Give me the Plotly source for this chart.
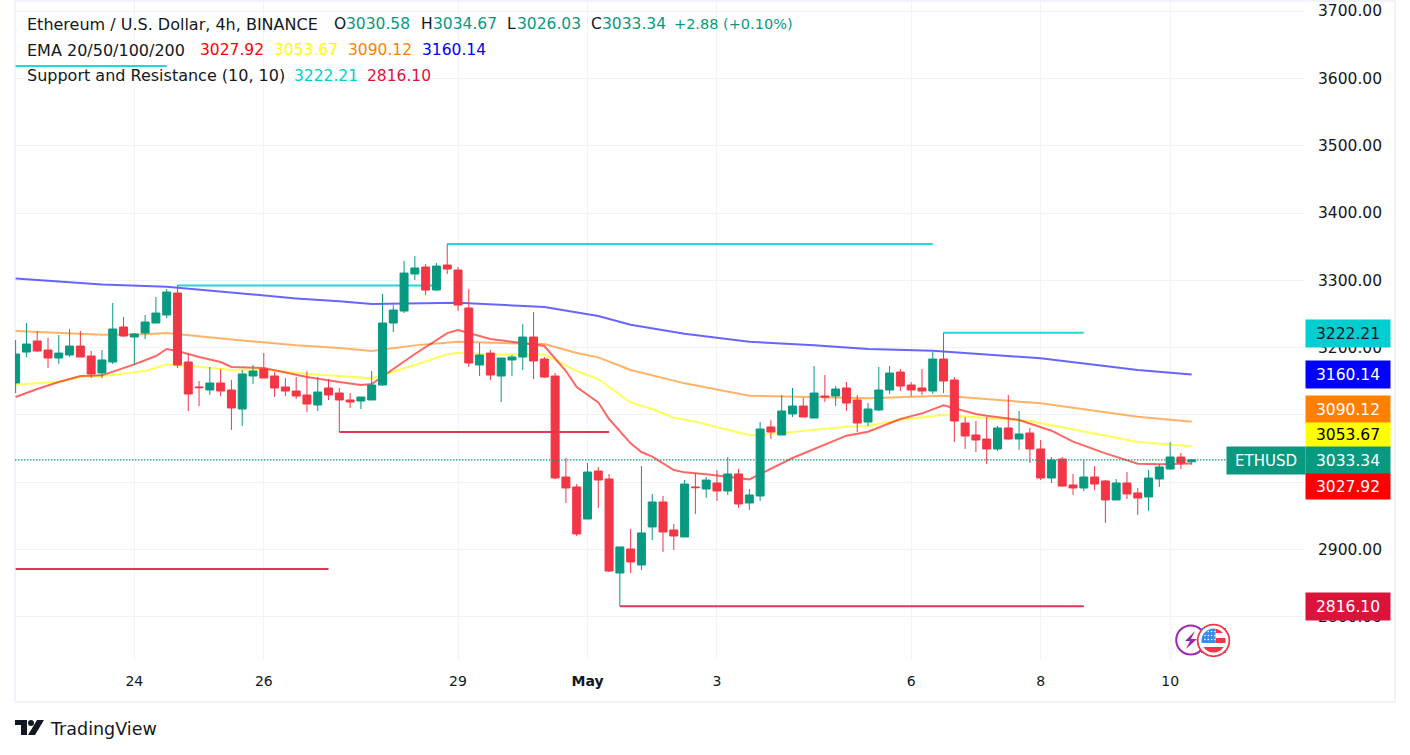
import pandas as pd
import plotly.graph_objects as go

# 4h bars, BINANCE ETHUSD
bar_times = pd.date_range("2024-04-22 04:00", periods=110, freq="4h")

open_prices = [
    3147.5, 3193.5, 3209.9, 3196.5, 3184.6, 3189.1, 3202.4, 3187.6, 3162.4, 3178.7,
    3230.7, 3215.8, 3221.7, 3236.6, 3248.5, 3281.1, 3178.7, 3141.6, 3137.1, 3147.5,
    3137.1, 3108.9, 3157.9, 3168.3, 3157.9, 3141.6, 3135.6, 3129.7, 3114.8, 3140.1,
    3132.6, 3122.3, 3120.8, 3122.3, 3144.5, 3236.6, 3254.4, 3309.4, 3319.8, 3285.6,
    3322.7, 3315.3, 3258.9, 3174.2, 3192.0, 3157.9, 3181.7, 3186.1, 3215.8, 3183.1,
    3157.9, 3007.9, 2993.1, 2945.5, 3016.8, 3004.9, 2865.3, 2901.0, 2877.2, 2933.7,
    2970.8, 2929.2, 2918.8, 2993.1, 2990.1, 2999.0, 2987.1, 3012.4, 2969.3, 2979.7,
    3082.2, 3070.3, 3101.5, 3113.3, 3095.5, 3128.2, 3128.2, 3140.1, 3122.3, 3089.6,
    3107.4, 3137.1, 3163.8, 3144.5, 3140.1, 3135.6, 3183.1, 3152.0, 3088.1, 3070.3,
    3064.3, 3049.5, 3080.7, 3064.3, 3073.2, 3049.5, 3006.4, 3034.6, 2996.0, 2991.6,
    3007.9, 3002.0, 2973.8, 2999.0, 2984.2, 2978.2, 3004.9, 3019.8, 3037.6, 3030.58,
]
high_prices = [
    3211.3, 3236.6, 3224.7, 3214.3, 3218.8, 3227.7, 3224.7, 3195.0, 3196.5, 3266.3,
    3245.5, 3221.7, 3248.5, 3275.2, 3287.1, 3293.0, 3192.0, 3150.5, 3171.3, 3168.3,
    3152.0, 3166.8, 3174.2, 3192.0, 3163.8, 3154.9, 3156.4, 3165.3, 3156.4, 3153.4,
    3140.1, 3132.6, 3126.7, 3165.3, 3279.7, 3263.3, 3328.7, 3336.1, 3324.2, 3325.7,
    3353.9, 3319.8, 3287.1, 3206.9, 3196.5, 3184.6, 3189.1, 3235.1, 3252.9, 3186.1,
    3162.4, 3036.1, 2997.5, 3028.7, 3022.8, 3012.4, 2904.0, 2930.7, 3024.2, 2982.7,
    2979.7, 2938.1, 3003.4, 3013.9, 3007.9, 3018.3, 3037.6, 3019.8, 2990.1, 3089.6,
    3092.6, 3129.7, 3140.1, 3125.2, 3172.7, 3159.4, 3143.0, 3149.0, 3129.7, 3117.8,
    3171.3, 3172.7, 3168.3, 3149.0, 3168.3, 3193.5, 3222.2, 3156.4, 3097.0, 3091.1,
    3097.0, 3083.6, 3129.7, 3105.9, 3080.7, 3062.9, 3037.6, 3037.6, 3012.4, 3033.2,
    3024.2, 3003.4, 3004.9, 3015.3, 2991.6, 3018.3, 3027.2, 3059.9, 3043.5, 3034.67,
]
low_prices = [
    3132.6, 3186.1, 3193.5, 3169.8, 3175.7, 3186.1, 3186.1, 3154.9, 3154.9, 3175.7,
    3215.8, 3174.2, 3212.8, 3236.6, 3244.0, 3169.8, 3105.9, 3113.3, 3129.7, 3128.2,
    3077.7, 3083.6, 3146.0, 3154.9, 3126.7, 3128.2, 3123.7, 3104.4, 3105.9, 3122.3,
    3074.7, 3110.4, 3108.9, 3122.3, 3143.0, 3223.2, 3251.4, 3300.5, 3278.2, 3284.1,
    3309.4, 3254.4, 3171.3, 3157.9, 3152.0, 3119.3, 3157.9, 3166.8, 3153.4, 3154.9,
    3004.9, 2969.3, 2920.3, 2945.5, 2961.9, 2866.8, 2816.1, 2865.3, 2869.8, 2914.4,
    2896.5, 2899.5, 2918.8, 2953.0, 2976.7, 2972.3, 2981.2, 2961.9, 2958.9, 2972.3,
    3064.3, 3070.3, 3097.0, 3097.0, 3095.5, 3119.3, 3113.3, 3105.9, 3074.7, 3083.6,
    3105.9, 3131.2, 3135.6, 3128.2, 3129.7, 3131.2, 3132.6, 3059.9, 3049.5, 3045.0,
    3027.2, 3046.5, 3062.9, 3048.0, 3028.7, 3003.4, 2999.0, 2993.1, 2981.2, 2987.1,
    2988.6, 2939.6, 2973.8, 2975.2, 2951.5, 2957.4, 2993.1, 3018.3, 3019.8, 3026.03,
]
close_prices = [
    3190.6, 3205.4, 3195.0, 3184.6, 3192.0, 3202.4, 3186.1, 3160.9, 3181.7, 3227.7,
    3217.3, 3220.3, 3238.1, 3251.4, 3282.6, 3174.2, 3131.2, 3140.6, 3147.5, 3135.6,
    3110.4, 3160.9, 3165.3, 3154.9, 3140.1, 3135.6, 3128.2, 3116.3, 3134.1, 3129.7,
    3122.3, 3119.3, 3126.7, 3144.5, 3236.6, 3255.9, 3310.8, 3318.3, 3285.6, 3321.2,
    3316.8, 3263.3, 3177.2, 3189.1, 3159.4, 3184.6, 3186.1, 3215.8, 3180.2, 3156.4,
    3006.4, 2991.6, 2923.3, 3015.3, 3003.4, 2868.3, 2904.0, 2881.7, 2924.8, 2970.8,
    2926.2, 2920.3, 2997.5, 2992.1, 3003.4, 2987.1, 3012.4, 2967.8, 2981.2, 3079.2,
    3074.7, 3105.9, 3113.3, 3097.0, 3132.6, 3126.7, 3138.6, 3117.8, 3088.1, 3108.9,
    3137.1, 3162.3, 3143.0, 3137.1, 3135.6, 3183.1, 3150.5, 3091.1, 3068.8, 3062.9,
    3049.5, 3080.7, 3064.3, 3071.8, 3049.5, 3006.4, 3033.2, 2994.5, 2991.6, 3007.9,
    2997.5, 2973.8, 2999.0, 2982.7, 2976.7, 3006.4, 3022.8, 3037.6, 3028.7, 3033.34,
]

# EMA lines, vertices only: bar number and price
ema20_bars = [0, 2, 4, 6, 8, 11, 13, 14, 15, 17, 19, 20, 23, 27, 30, 32, 33, 37, 40, 41,
              44, 46, 49, 51, 52, 54, 55, 57, 58, 59, 61, 62, 64, 68, 72, 77, 79, 82, 84, 86,
              89, 90, 93, 96, 98, 101, 104, 106, 109]
ema20_vals = [3126.7, 3138.6, 3149.0, 3157.9, 3158.9, 3175.2, 3187.6, 3198.0, 3195.0, 3186.1,
              3178.7, 3171.3, 3169.8, 3156.4, 3149.0, 3144.5, 3146.0, 3190.6, 3221.7, 3226.2,
              3212.8, 3208.4, 3202.4, 3165.3, 3141.6, 3118.8, 3094.0, 3057.9, 3045.0, 3038.1,
              3018.3, 3014.8, 3011.9, 3004.4, 3036.1, 3069.3, 3075.2, 3094.0, 3102.4, 3114.3,
              3101.5, 3099.0, 3092.6, 3076.7, 3060.4, 3043.0, 3027.7, 3026.7, 3027.92]
ema50_bars = [0, 4, 6, 8, 12, 14, 17, 20, 23, 27, 30, 33, 37, 40, 41, 45, 49, 52, 54, 57,
              59, 61, 63, 68, 72, 77, 79, 82, 86, 89, 94, 104, 109]
ema50_vals = [3145.0, 3149.5, 3156.4, 3157.4, 3165.3, 3175.2, 3171.7, 3166.8, 3167.8, 3160.9,
              3157.9, 3154.4, 3174.2, 3190.1, 3192.5, 3189.6, 3190.1, 3165.3, 3153.4, 3118.3,
              3108.9, 3096.0, 3090.0, 3069.8, 3074.7, 3082.6, 3083.6, 3093.0, 3100.0, 3097.0,
              3091.1, 3059.9, 3053.67]
ema100_bars = [0, 8, 12, 14, 20, 26, 30, 33, 37, 41, 45, 49, 52, 54, 57, 62, 68, 74, 79, 86,
               89, 95, 104, 109]
ema100_vals = [3224.7, 3219.3, 3219.8, 3221.7, 3212.3, 3203.4, 3199.5, 3195.0, 3203.4, 3208.9,
               3206.9, 3205.4, 3192.0, 3185.6, 3166.8, 3147.0, 3128.7, 3126.2, 3124.7, 3128.7,
               3124.7, 3117.3, 3097.5, 3090.12]
ema200_bars = [0, 8, 14, 20, 26, 30, 33, 41, 49, 54, 57, 62, 68, 74, 79, 85, 89, 95, 104, 109]
ema200_vals = [3302.9, 3294.0, 3290.6, 3282.1, 3273.2, 3268.8, 3264.8, 3266.8, 3260.4, 3247.0,
               3234.1, 3220.8, 3208.9, 3203.4, 3198.0, 3195.5, 3190.6, 3184.1, 3166.8, 3160.14]

# support / resistance levels: first bar, last bar, price
resistance_start = [0, 15, 40, 86]
resistance_end = [14, 39, 85, 99]
resistance_vals = [3618.3, 3292.5, 3353.9, 3222.21]
support_start = [0, 30, 56]
support_end = [29, 55, 99]
support_vals = [2871.3, 3074.7, 2816.10]

date_ticks = ["2024-04-24", "2024-04-26", "2024-04-29", "2024-05-01",
              "2024-05-03", "2024-05-06", "2024-05-08", "2024-05-10"]
date_labels = ["24", "26", "29", "<b>May</b>", "3", "6", "8", "10"]
price_ticks = [2800, 2900, 3000, 3100, 3200, 3300, 3400, 3500, 3600, 3700]
# 3000 and 3100 sit fully under the price tags, so they carry no label
price_labels = ["2800.00", "2900.00", "", "", "3200.00", "3300.00", "3400.00", "3500.00", "3600.00", "3700.00"]

GREEN = "#089981"
RED = "#F23645"
TEAL = "#00CED1"
CRIMSON = "#DC143C"
INK = "#131722"
GRID = "#F2F3F7"
BORDER = "#F0F3FA"
FONT = "DejaVu Sans"

# plot area in page pixels
LEFT, RIGHT, TOP, BOTTOM = 15, 1305, 2, 660
price_range = [2736.1, 3713.4]
time_range = ["2024-04-22 03:46", "2024-05-12 02:00"]


def px_x(x):
    return (x - LEFT) / (RIGHT - LEFT)


def px_y(y):
    return (BOTTOM - y) / (BOTTOM - TOP)


def add_ema(fig, bars, vals, color, name):
    fig.add_trace(go.Scatter(x=bar_times[bars], y=vals, mode="lines", name=name,
                             line=dict(color=color, width=2), hoverinfo="skip"))


def add_levels(fig, starts, ends, vals, color, name):
    for s, e, v in zip(starts, ends, vals):
        fig.add_trace(go.Scatter(x=[bar_times[s], bar_times[e]], y=[v, v], mode="lines", name=name,
                                 line=dict(color=color, width=2), opacity=0.85, hoverinfo="skip"))


def path_rect(x0, y0, x1, y1, color, line=None):
    return dict(type="rect", xref="paper", yref="paper", x0=px_x(x0), x1=px_x(x1),
                y0=px_y(y0), y1=px_y(y1), fillcolor=color, layer="above",
                line=dict(color=line or color, width=0))


def circle(cx, cy, r, fill, line, width):
    return dict(type="circle", xref="paper", yref="paper", x0=px_x(cx - r), x1=px_x(cx + r),
                y0=px_y(cy + r), y1=px_y(cy - r), fillcolor=fill, layer="above",
                line=dict(color=line, width=width))


def polygon(points, color):
    d = "M " + " L ".join(f"{px_x(x)},{px_y(y)}" for x, y in points) + " Z"
    return dict(type="path", xref="paper", yref="paper", path=d, fillcolor=color,
                layer="above", line=dict(color=color, width=0))


fig = go.Figure()

add_ema(fig, ema200_bars, ema200_vals, "rgba(0,0,255,0.6)", "EMA 200")
add_ema(fig, ema100_bars, ema100_vals, "rgba(255,128,0,0.6)", "EMA 100")
add_ema(fig, ema50_bars, ema50_vals, "rgba(255,255,0,0.65)", "EMA 50")
add_ema(fig, ema20_bars, ema20_vals, "rgba(255,0,0,0.6)", "EMA 20")
add_levels(fig, resistance_start, resistance_end, resistance_vals, TEAL, "Resistance")
add_levels(fig, support_start, support_end, support_vals, CRIMSON, "Support")

# candles sit on an overlay axis so that they are drawn over the lines
fig.add_trace(go.Candlestick(
    x=bar_times, open=open_prices, high=high_prices, low=low_prices, close=close_prices,
    yaxis="y2", name="ETHUSD", whiskerwidth=0,
    increasing=dict(line=dict(color=GREEN, width=1), fillcolor=GREEN),
    decreasing=dict(line=dict(color=RED, width=1), fillcolor=RED),
))

shapes = [
    dict(type="rect", xref="paper", yref="paper", x0=px_x(15), x1=px_x(1395), y0=px_y(702), y1=px_y(1),
         line=dict(color=BORDER, width=2), layer="below"),
    dict(type="line", xref="paper", yref="y", x0=px_x(15), x1=px_x(1226),
         y0=close_prices[-1], y1=close_prices[-1], layer="above",
         line=dict(color=GREEN, width=1.3, dash="1.5px,1.5px")),
    # lightning badge
    circle(1190.7, 640, 14.5, "white", "#9C27B0", 2),
    polygon([(1195, 631), (1185, 641), (1190, 641), (1186, 649), (1197, 639), (1191, 639)], "#9C27B0"),
    # flag badge
    circle(1213.5, 640.5, 15.5, "white", RED, 2.5),
    path_rect(1215.5, 628, 1226, 633, RED),
    path_rect(1215.5, 638, 1226, 643, RED),
    path_rect(1201, 647, 1226, 653, RED),
    path_rect(1201, 628, 1215.5, 643, "#3C8CE7"),
    circle(1213.5, 640.5, 13.5, "rgba(0,0,0,0)", "white", 3),
    # TradingView mark
    polygon([(15, 720), (27, 720), (27, 735), (21, 735), (21, 725), (15, 725)], INK),
    circle(31, 723, 3, INK, INK, 0),
    polygon([(37, 720), (44, 720), (35, 735), (28, 735)], INK),
]
for row in range(3):
    for col in range(4):
        shapes.append(circle(1205 + col * 3.3, 631.5 + row * 4, 0.8, "white", "white", 0))

# header lines, text pieces at their own x and size
legend_parts = [
    ("Ethereum / U.S. Dollar, 4h, BINANCE", INK, 26, 24, 16),
    ("O", INK, 333, 24, 15.5), ("3030.58", GREEN, 345, 24, 15.5),
    ("H", INK, 420, 24, 15.5), ("3034.67", GREEN, 432, 24, 15.5),
    ("L", INK, 506, 24, 15.5), ("3026.03", GREEN, 516, 24, 15.5),
    ("C", INK, 590, 24, 15.5), ("3033.34", GREEN, 601, 24, 15.5),
    ("+2.88 (+0.10%)", GREEN, 673, 24, 14.5),
    ("EMA 20/50/100/200", INK, 26, 50, 16),
    ("3027.92", "#FF0000", 199, 50, 15.5), ("3053.67", "#FFFF00", 273, 50, 15.5),
    ("3090.12", "#FF8000", 347, 50, 15.5), ("3160.14", "#0000FF", 421, 50, 15.5),
    ("Support and Resistance (10, 10)", INK, 26, 76, 16),
    ("3222.21", TEAL, 293, 76, 15.5), ("2816.10", CRIMSON, 366, 76, 15.5),
]
annotations = []
for text, color, x, y, size in legend_parts:
    annotations.append(dict(text=text, xref="paper", yref="paper", x=px_x(x), y=px_y(y),
                            xanchor="left", yanchor="middle", showarrow=False,
                            font=dict(family=FONT, size=size, color=color), borderpad=0))

# price tags on the right: text, fill, text colour, top, bottom
price_tags = [
    ("3222.21", TEAL, INK, 320, 347),
    ("3160.14", "#0000FF", "white", 361, 388),
    ("3090.12", "#FF8000", "white", 396, 423),
    ("3053.67", "#FFFF00", "black", 423, 447),
    ("3033.34", GREEN, "white", 447, 474),
    ("3027.92", "#FF0000", "white", 474, 499),
    ("2816.10", CRIMSON, "white", 593, 620),
]
for text, fill, color, top, bottom in price_tags:
    annotations.append(dict(text=text, xref="paper", yref="paper", x=px_x(1305), y=px_y((top + bottom) / 2),
                            xanchor="left", yanchor="middle", showarrow=False, width=84, height=bottom - top,
                            bgcolor=fill, borderpad=0, font=dict(family=FONT, size=15.5, color=color)))
annotations.append(dict(text="ETHUSD", xref="paper", yref="paper", x=px_x(1226), y=px_y(460.5),
                        xanchor="left", yanchor="middle", showarrow=False, width=78, height=27,
                        bgcolor=GREEN, borderpad=0, font=dict(family=FONT, size=15, color="white")))
annotations.append(dict(text="TradingView", xref="paper", yref="paper", x=px_x(49), y=px_y(729),
                        xanchor="left", yanchor="middle", showarrow=False, borderpad=0,
                        font=dict(family=FONT, size=17.5, color=INK)))

fig.update_layout(
    width=1410, height=755,
    margin=dict(l=LEFT, r=1410 - RIGHT, t=TOP, b=755 - BOTTOM, pad=0),
    paper_bgcolor="white", plot_bgcolor="white",
    showlegend=False, boxgap=0.26, boxgroupgap=0, hovermode=False,
    font=dict(family=FONT, size=15, color=INK),
    shapes=shapes, annotations=annotations,
    xaxis=dict(type="date", range=time_range, tickvals=date_ticks, ticktext=date_labels,
               showgrid=True, gridcolor=GRID, gridwidth=1, zeroline=False, showline=False,
               ticks="", rangeslider=dict(visible=False), ticklabelstandoff=11,
               tickfont=dict(family=FONT, size=14, color=INK)),
    yaxis=dict(range=price_range, side="right", tickvals=price_ticks, ticktext=price_labels,
               showgrid=True, gridcolor=GRID, gridwidth=1, zeroline=False, showline=False,
               ticks="", ticklabelstandoff=12, ticklabeloverflow="allow",
               tickfont=dict(family=FONT, size=15.5, color=INK)),
    yaxis2=dict(range=price_range, overlaying="y", side="right", visible=False),
)

# the page's default body margin would push the chart off by 8px
fig.write_html("out.html", config=dict(displayModeBar=False),
               post_script="document.body.style.margin='0';")
